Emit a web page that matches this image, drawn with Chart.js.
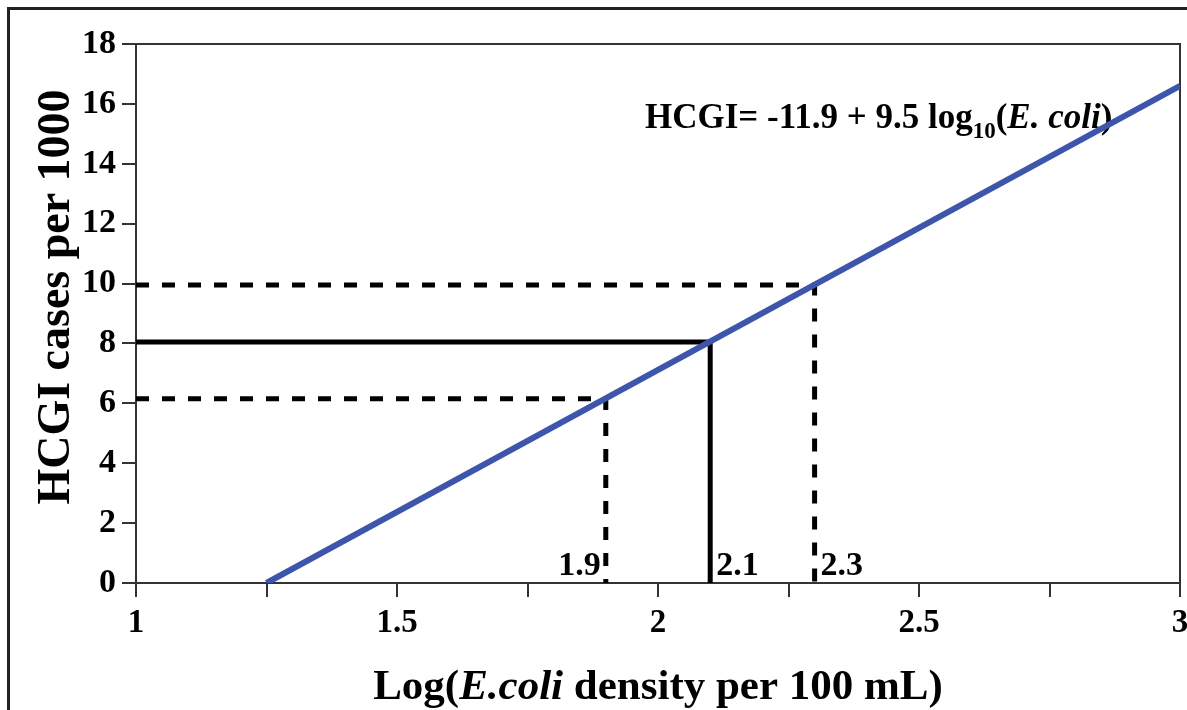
<!DOCTYPE html>
<html>
<head>
<meta charset="utf-8">
<script src="https://cdn.jsdelivr.net/npm/chart.js@4"></script>
<style>
  html, body { margin: 0; padding: 0; background: #fff; }
  #wrap { position: relative; width: 1187px; height: 710px; overflow: hidden; }
  #frame {
    position: absolute; left: 7px; top: 7px; width: 1300px; height: 800px;
    border-left: 3px solid #222; border-top: 3px solid #222;
  }
  #riskChart { position: absolute; left: 0; top: 0; }
</style>
</head>
<body>
<div id="wrap">
  <div id="frame"></div>
  <canvas id="riskChart" width="1187" height="710"></canvas>
</div>
<script>
// regression line end points: log10(E. coli) vs HCGI per 1000
const lineX = [1.25, 3];
const lineY = [0, 16.6];

// reading off the line at three densities
const refX = [1.9, 2.1, 2.3];
const refY = [6.15, 8.05, 9.95];
const refLabels = ['1.9', '2.1', '2.3'];

// axis ticks
const xTickValues = [1, 1.5, 2, 2.5, 3];
const yTickMax = 18;

const SERIF = "'Liberation Serif', 'Times New Roman', serif";
const BLUE = '#3d55aa';

// blue line first so it is drawn on top of the guides
const datasets = [{
    data: lineX.map((x, i) => ({ x: x, y: lineY[i] })),
    borderColor: BLUE,
    borderWidth: 6,
    pointRadius: 0,
    showLine: true,
    tension: 0
}];

refX.forEach((x, i) => {
    datasets.push({
        data: [{ x: 1, y: refY[i] }, { x: x, y: refY[i] }, { x: x, y: 0 }],
        borderColor: '#000',
        borderWidth: 5,
        borderDash: i === 1 ? [] : [13, 13],
        borderJoinStyle: 'miter',
        borderCapStyle: 'butt',
        pointRadius: 0,
        showLine: true,
        tension: 0
    });
});

// draws a run of text pieces with their own fonts, left to right
function drawRuns(ctx, runs, x, y) {
    let cx = x;
    runs.forEach(r => {
        ctx.font = r.font;
        ctx.fillText(r.text, cx, y + (r.dy || 0));
        cx += ctx.measureText(r.text).width;
    });
    return cx;
}

function runsWidth(ctx, runs) {
    let w = 0;
    runs.forEach(r => { ctx.font = r.font; w += ctx.measureText(r.text).width; });
    return w;
}

const annotations = {
    id: 'annotations',
    beforeDatasetsDraw(chart) {
        const ctx = chart.ctx;
        const area = chart.chartArea;
        ctx.save();
        ctx.fillStyle = '#000';
        ctx.textBaseline = 'alphabetic';
        ctx.textAlign = 'left';
        // equation
        const b = 'bold 35px ' + SERIF;
        const bi = 'italic bold 35px ' + SERIF;
        drawRuns(ctx, [
            { text: 'HCGI= -11.9 + 9.5 log', font: b },
            { text: '10', font: 'bold 23px ' + SERIF, dy: 10 },
            { text: '(', font: b },
            { text: 'E. coli', font: bi },
            { text: ')', font: b }
        ], area.left + 509, area.top + 84);

        // plot box top and right edges
        ctx.strokeStyle = '#333';
        ctx.lineWidth = 2;
        ctx.beginPath();
        ctx.moveTo(area.left, area.top);
        ctx.lineTo(area.right, area.top);
        ctx.lineTo(area.right, area.bottom);
        ctx.stroke();

        // y axis title
        ctx.save();
        ctx.translate(57, 297);
        ctx.rotate(-Math.PI / 2);
        ctx.textAlign = 'center';
        ctx.textBaseline = 'middle';
        ctx.font = 'bold 46px ' + SERIF;
        ctx.fillText('HCGI cases per 1000', 0, 0);
        ctx.restore();
        ctx.restore();
    },
    afterDatasetsDraw(chart) {
        const ctx = chart.ctx;
        const xs = chart.scales.x;
        const ys = chart.scales.y;
        ctx.save();
        ctx.fillStyle = '#000';
        ctx.font = 'bold 34px ' + SERIF;
        ctx.textBaseline = 'alphabetic';
        refX.forEach((x, i) => {
            const px = xs.getPixelForValue(x);
            const py = ys.getPixelForValue(0) - 8;
            if (i === 0) {
                ctx.textAlign = 'right';
                ctx.fillText(refLabels[i], px - 5, py);
            } else {
                ctx.textAlign = 'left';
                ctx.fillText(refLabels[i], px + 6, py);
            }
        });

        // x axis title with italic species name
        const f = 'bold 43px ' + SERIF;
        const fi = 'italic bold 43px ' + SERIF;
        const runs = [
            { text: 'Log(', font: f },
            { text: 'E.coli', font: fi },
            { text: ' density per 100 mL)', font: f }
        ];
        ctx.textAlign = 'left';
        const w = runsWidth(ctx, runs);
        const cx = (chart.chartArea.left + chart.chartArea.right) / 2;
        drawRuns(ctx, runs, cx - w / 2, 699);
        ctx.restore();
    }
};

const chart = new Chart(document.getElementById('riskChart'), {
    type: 'scatter',
    data: { datasets: datasets },
    options: {
        responsive: false,
        animation: false,
        layout: { padding: { top: 44, right: 7, left: 0, bottom: 0 } },
        plugins: {
            legend: { display: false },
            tooltip: { enabled: false }
        },
        scales: {
            x: {
                type: 'linear',
                min: 1,
                max: 3,
                afterFit(scale) {
                    scale.height = 127;
                    scale.paddingLeft = 0;
                    scale.paddingRight = 0;
                },
                afterBuildTicks(scale) {
                    const t = [];
                    for (let v = 1; v <= 3.0001; v += 0.25) t.push({ value: Math.round(v * 100) / 100 });
                    scale.ticks = t;
                },
                ticks: {
                    autoSkip: false,
                    maxRotation: 0,
                    padding: 7,
                    color: '#000',
                    font: { family: SERIF, size: 33, weight: 'bold', lineHeight: 1.2 },
                    callback: v => xTickValues.includes(v) ? String(v) : ''
                },
                grid: { drawOnChartArea: false, tickLength: 14, color: '#333', lineWidth: 2 },
                border: { color: '#333', width: 2 }
            },
            y: {
                min: 0,
                max: yTickMax,
                afterFit(scale) {
                    scale.width = 136;
                    scale.paddingTop = 0;
                    scale.paddingBottom = 0;
                },
                ticks: {
                    stepSize: 2,
                    padding: 6,
                    color: '#000',
                    font: { family: SERIF, size: 34, weight: 'bold' }
                },
                grid: { drawOnChartArea: false, tickLength: 14, color: '#333', lineWidth: 2 },
                border: { color: '#333', width: 2 }
            }
        }
    },
    plugins: [annotations]
});
</script>
</body>
</html>
